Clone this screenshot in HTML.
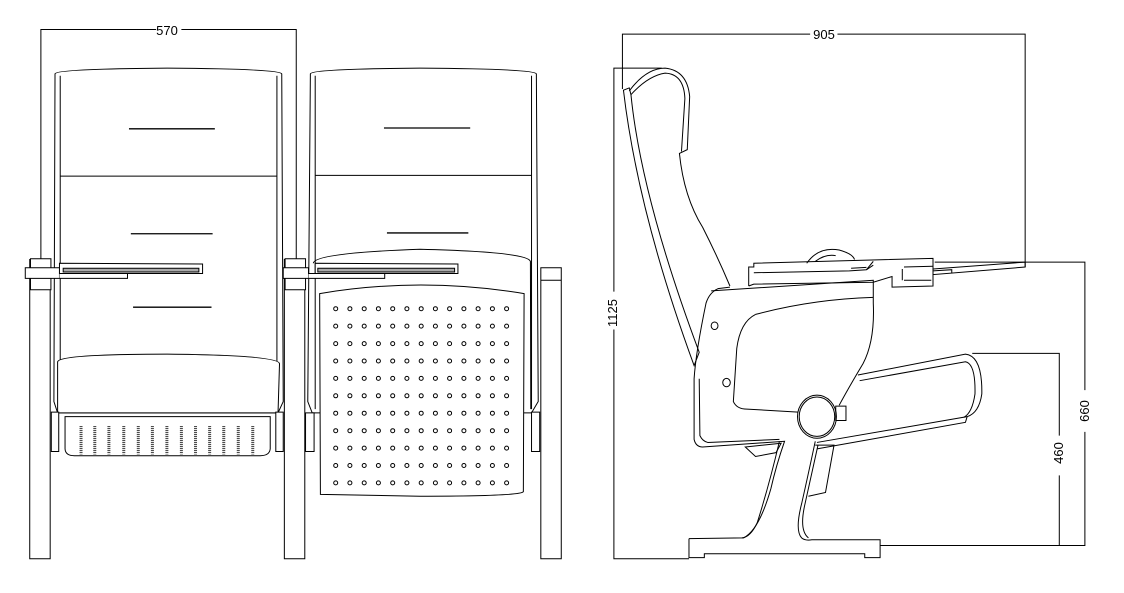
<!DOCTYPE html>
<html><head><meta charset="utf-8"><style>
html,body{margin:0;padding:0;background:#fff;width:1124px;height:593px;overflow:hidden}
svg{display:block}
path,line,rect,circle,polyline,polygon,ellipse{vector-effect:non-scaling-stroke}
text{font-family:"Liberation Sans",sans-serif;font-size:13px;fill:#000}
</style></head><body>
<svg width="1124" height="593" viewBox="0 0 1124 593" xmlns="http://www.w3.org/2000/svg">
<g transform="scale(0.3717,0.3788)" fill="none" stroke="#000" stroke-width="1">
  <polyline points="110,685 110,78 420,78"/>
  <polyline points="488,78 797,78 797,685"/>
  <path d="M148,195 Q150,182 450,180 Q755,182 758,195 L762,1060 L748,1090 L155,1090 L145,1060 Z"/>
  <path d="M162,200 L162,1080 M745,200 L745,1080"/>
  <line x1="162" y1="465" x2="745" y2="465"/>
  <line x1="347" y1="340" x2="578" y2="340" stroke-width="1.3"/>
  <line x1="352" y1="617" x2="572" y2="617" stroke-width="1.3"/>
  <line x1="358" y1="811" x2="569" y2="811" stroke-width="1.3"/>
  <path d="M155,955 Q160,935 450,935 Q750,938 752,960 L748,1090 L155,1090 Z" fill="#fff"/>
  <path d="M175,1100 L727,1100 L727,1185 Q725,1203 700,1203 L200,1203 Q176,1203 175,1185 Z" fill="#fff"/>
  <g stroke="#333" stroke-width="3" stroke-dasharray="1 1">
    <line x1="218" y1="1125" x2="218" y2="1200"/><line x1="255" y1="1125" x2="255" y2="1200"/>
    <line x1="293" y1="1125" x2="293" y2="1200"/><line x1="333" y1="1125" x2="333" y2="1200"/>
    <line x1="372" y1="1125" x2="372" y2="1200"/><line x1="410" y1="1125" x2="410" y2="1200"/>
    <line x1="449" y1="1125" x2="449" y2="1200"/><line x1="488" y1="1125" x2="488" y2="1200"/>
    <line x1="526" y1="1125" x2="526" y2="1200"/><line x1="564" y1="1125" x2="564" y2="1200"/>
    <line x1="602" y1="1125" x2="602" y2="1200"/><line x1="641" y1="1125" x2="641" y2="1200"/>
    <line x1="680" y1="1125" x2="680" y2="1200"/>
  </g>
  <rect x="138" y="1088" width="20" height="104" fill="#fff"/>
  <rect x="742" y="1088" width="20" height="104" fill="#fff"/>
  <rect x="80" y="685" width="55" height="790" fill="#fff"/>
  <rect x="82" y="683" width="55" height="82" fill="#fff"/>
  <rect x="68" y="707" width="92" height="28" fill="#fff"/>
  <path d="M160,695 L545,697 L545,722 L160,722 Z" fill="#fff"/>
  <rect x="170" y="708" width="365" height="10" fill="#aaa"/>
  <path d="M160,722 L343,722 L343,735 L160,735" fill="#fff"/>
  <path d="M835,195 Q838,182 1130,180 Q1440,182 1443,195 L1448,1060 L1430,1090 L840,1090 L828,1060 Z"/>
  <path d="M848,200 L848,1080 M1430,200 L1430,1080"/>
  <line x1="848" y1="463" x2="1430" y2="463"/>
  <line x1="1033" y1="338" x2="1265" y2="338" stroke-width="1.3"/>
  <line x1="1041" y1="615" x2="1260" y2="615" stroke-width="1.3"/>
  <path d="M843,695 Q845,668 1130,658 Q1420,665 1427,690 L1428,1080"/>
  <path d="M860,775 Q1130,730 1410,775 L1408,1298 Q1400,1310 1130,1310 L862,1305 Z" fill="#fff"/>
  <rect x="822" y="1090" width="23" height="102" fill="#fff"/>
  <rect x="1430" y="1088" width="22" height="104" fill="#fff"/>
  <rect x="765" y="685" width="55" height="790" fill="#fff"/>
  <rect x="767" y="683" width="55" height="82" fill="#fff"/>
  <rect x="762" y="707" width="68" height="28" fill="#fff"/>
  <path d="M848,695 L1232,697 L1232,722 L848,722 Z" fill="#fff"/>
  <rect x="855" y="708" width="368" height="10" fill="#aaa"/>
  <path d="M830,722 L1035,722 L1035,735 L830,735" fill="#fff"/>
  <rect x="1455" y="707" width="55" height="768" fill="#fff"/>
  <line x1="1455" y1="740" x2="1510" y2="740"/>
</g>
<g fill="none" stroke="#000" stroke-width="1">
<circle cx="335.7" cy="308.7" r="2"/><circle cx="349.9" cy="308.7" r="2"/><circle cx="364.2" cy="308.7" r="2"/><circle cx="378.4" cy="308.7" r="2"/><circle cx="392.7" cy="308.7" r="2"/><circle cx="406.9" cy="308.7" r="2"/><circle cx="421.2" cy="308.7" r="2"/><circle cx="435.4" cy="308.7" r="2"/><circle cx="449.6" cy="308.7" r="2"/><circle cx="463.9" cy="308.7" r="2"/><circle cx="478.1" cy="308.7" r="2"/><circle cx="492.4" cy="308.7" r="2"/><circle cx="506.6" cy="308.7" r="2"/>
<circle cx="335.7" cy="326.1" r="2"/><circle cx="349.9" cy="326.1" r="2"/><circle cx="364.2" cy="326.1" r="2"/><circle cx="378.4" cy="326.1" r="2"/><circle cx="392.7" cy="326.1" r="2"/><circle cx="406.9" cy="326.1" r="2"/><circle cx="421.2" cy="326.1" r="2"/><circle cx="435.4" cy="326.1" r="2"/><circle cx="449.6" cy="326.1" r="2"/><circle cx="463.9" cy="326.1" r="2"/><circle cx="478.1" cy="326.1" r="2"/><circle cx="492.4" cy="326.1" r="2"/><circle cx="506.6" cy="326.1" r="2"/>
<circle cx="335.7" cy="343.6" r="2"/><circle cx="349.9" cy="343.6" r="2"/><circle cx="364.2" cy="343.6" r="2"/><circle cx="378.4" cy="343.6" r="2"/><circle cx="392.7" cy="343.6" r="2"/><circle cx="406.9" cy="343.6" r="2"/><circle cx="421.2" cy="343.6" r="2"/><circle cx="435.4" cy="343.6" r="2"/><circle cx="449.6" cy="343.6" r="2"/><circle cx="463.9" cy="343.6" r="2"/><circle cx="478.1" cy="343.6" r="2"/><circle cx="492.4" cy="343.6" r="2"/><circle cx="506.6" cy="343.6" r="2"/>
<circle cx="335.7" cy="361.0" r="2"/><circle cx="349.9" cy="361.0" r="2"/><circle cx="364.2" cy="361.0" r="2"/><circle cx="378.4" cy="361.0" r="2"/><circle cx="392.7" cy="361.0" r="2"/><circle cx="406.9" cy="361.0" r="2"/><circle cx="421.2" cy="361.0" r="2"/><circle cx="435.4" cy="361.0" r="2"/><circle cx="449.6" cy="361.0" r="2"/><circle cx="463.9" cy="361.0" r="2"/><circle cx="478.1" cy="361.0" r="2"/><circle cx="492.4" cy="361.0" r="2"/><circle cx="506.6" cy="361.0" r="2"/>
<circle cx="335.7" cy="378.4" r="2"/><circle cx="349.9" cy="378.4" r="2"/><circle cx="364.2" cy="378.4" r="2"/><circle cx="378.4" cy="378.4" r="2"/><circle cx="392.7" cy="378.4" r="2"/><circle cx="406.9" cy="378.4" r="2"/><circle cx="421.2" cy="378.4" r="2"/><circle cx="435.4" cy="378.4" r="2"/><circle cx="449.6" cy="378.4" r="2"/><circle cx="463.9" cy="378.4" r="2"/><circle cx="478.1" cy="378.4" r="2"/><circle cx="492.4" cy="378.4" r="2"/><circle cx="506.6" cy="378.4" r="2"/>
<circle cx="335.7" cy="395.8" r="2"/><circle cx="349.9" cy="395.8" r="2"/><circle cx="364.2" cy="395.8" r="2"/><circle cx="378.4" cy="395.8" r="2"/><circle cx="392.7" cy="395.8" r="2"/><circle cx="406.9" cy="395.8" r="2"/><circle cx="421.2" cy="395.8" r="2"/><circle cx="435.4" cy="395.8" r="2"/><circle cx="449.6" cy="395.8" r="2"/><circle cx="463.9" cy="395.8" r="2"/><circle cx="478.1" cy="395.8" r="2"/><circle cx="492.4" cy="395.8" r="2"/><circle cx="506.6" cy="395.8" r="2"/>
<circle cx="335.7" cy="413.2" r="2"/><circle cx="349.9" cy="413.2" r="2"/><circle cx="364.2" cy="413.2" r="2"/><circle cx="378.4" cy="413.2" r="2"/><circle cx="392.7" cy="413.2" r="2"/><circle cx="406.9" cy="413.2" r="2"/><circle cx="421.2" cy="413.2" r="2"/><circle cx="435.4" cy="413.2" r="2"/><circle cx="449.6" cy="413.2" r="2"/><circle cx="463.9" cy="413.2" r="2"/><circle cx="478.1" cy="413.2" r="2"/><circle cx="492.4" cy="413.2" r="2"/><circle cx="506.6" cy="413.2" r="2"/>
<circle cx="335.7" cy="430.7" r="2"/><circle cx="349.9" cy="430.7" r="2"/><circle cx="364.2" cy="430.7" r="2"/><circle cx="378.4" cy="430.7" r="2"/><circle cx="392.7" cy="430.7" r="2"/><circle cx="406.9" cy="430.7" r="2"/><circle cx="421.2" cy="430.7" r="2"/><circle cx="435.4" cy="430.7" r="2"/><circle cx="449.6" cy="430.7" r="2"/><circle cx="463.9" cy="430.7" r="2"/><circle cx="478.1" cy="430.7" r="2"/><circle cx="492.4" cy="430.7" r="2"/><circle cx="506.6" cy="430.7" r="2"/>
<circle cx="335.7" cy="448.1" r="2"/><circle cx="349.9" cy="448.1" r="2"/><circle cx="364.2" cy="448.1" r="2"/><circle cx="378.4" cy="448.1" r="2"/><circle cx="392.7" cy="448.1" r="2"/><circle cx="406.9" cy="448.1" r="2"/><circle cx="421.2" cy="448.1" r="2"/><circle cx="435.4" cy="448.1" r="2"/><circle cx="449.6" cy="448.1" r="2"/><circle cx="463.9" cy="448.1" r="2"/><circle cx="478.1" cy="448.1" r="2"/><circle cx="492.4" cy="448.1" r="2"/><circle cx="506.6" cy="448.1" r="2"/>
<circle cx="335.7" cy="465.5" r="2"/><circle cx="349.9" cy="465.5" r="2"/><circle cx="364.2" cy="465.5" r="2"/><circle cx="378.4" cy="465.5" r="2"/><circle cx="392.7" cy="465.5" r="2"/><circle cx="406.9" cy="465.5" r="2"/><circle cx="421.2" cy="465.5" r="2"/><circle cx="435.4" cy="465.5" r="2"/><circle cx="449.6" cy="465.5" r="2"/><circle cx="463.9" cy="465.5" r="2"/><circle cx="478.1" cy="465.5" r="2"/><circle cx="492.4" cy="465.5" r="2"/><circle cx="506.6" cy="465.5" r="2"/>
<circle cx="335.7" cy="482.9" r="2"/><circle cx="349.9" cy="482.9" r="2"/><circle cx="364.2" cy="482.9" r="2"/><circle cx="378.4" cy="482.9" r="2"/><circle cx="392.7" cy="482.9" r="2"/><circle cx="406.9" cy="482.9" r="2"/><circle cx="421.2" cy="482.9" r="2"/><circle cx="435.4" cy="482.9" r="2"/><circle cx="449.6" cy="482.9" r="2"/><circle cx="463.9" cy="482.9" r="2"/><circle cx="478.1" cy="482.9" r="2"/><circle cx="492.4" cy="482.9" r="2"/><circle cx="506.6" cy="482.9" r="2"/>
</g>
<text x="167" y="35" text-anchor="middle">570</text>
<g transform="translate(590,0) scale(0.3413,0.3788)" fill="none" stroke="#000" stroke-width="1">
  <polyline points="95,235 95,90 645,90"/>
  <polyline points="725,90 1275,90 1275,705"/>
  <polyline points="210,180 70,180 70,770"/>
  <polyline points="70,870 70,1475 290,1475"/>
  <polyline points="1010,692 1450,692 1450,1030"/>
  <polyline points="1450,1140 1450,1440 850,1440"/>
  <polyline points="1120,933 1375,933 1375,1150"/>
  <polyline points="1375,1255 1375,1440"/>
  <path d="M98,238 L115,232 L120,250 Q150,520 320,930 L305,965 Q140,560 98,238 Z"/>
  <path d="M115,240 Q165,180 220,180 Q285,186 292,255 L285,395 L262,405 Q275,520 330,600 Q375,680 410,755"/>
  <path d="M120,250 Q170,200 220,193 Q275,195 278,260 L268,400"/>
  <path d="M410,758 L375,762 Q350,772 340,800 Q310,930 305,1000 L305,1160 Q310,1180 330,1180 L570,1165 Q545,1230 530,1290 Q495,1400 450,1420 L290,1422"/>
  <path d="M320,1000 L322,1150 Q330,1165 345,1168 L555,1160"/>
  <path d="M555,1165 Q525,1280 490,1380 Q470,1418 445,1420"/>
  <path d="M660,1165 Q640,1250 620,1330 Q600,1400 620,1420 Q630,1428 650,1425 L850,1425 L850,1472 L805,1472 L805,1462 L335,1462 L335,1472 L290,1472 L290,1422"/>
  <path d="M668,1175 Q650,1250 630,1330 Q612,1400 640,1420"/>
  <path d="M355,768 L830,740 L830,800 Q835,900 800,960 Q760,1020 730,1070"/>
  <path d="M485,830 Q650,790 830,785"/>
  <path d="M485,830 Q440,850 430,920 L420,1060 Q430,1080 460,1080 L610,1088"/>
  <path d="M785,990 L1100,935 Q1150,940 1148,1040 Q1140,1090 1105,1100 L665,1168"/>
  <path d="M790,1005 L1100,955 Q1130,960 1128,1040 Q1120,1090 1095,1102"/>
  <path d="M665,1185 L1100,1115 L1105,1100"/>
  <circle cx="665" cy="1100" r="57"/>
  <circle cx="665" cy="1100" r="52"/>
  <rect x="720" y="1072" width="30" height="38"/>
  <circle cx="365" cy="860" r="10"/>
  <circle cx="400" cy="1010" r="11"/>
  <path d="M660,1175 L715,1175 L690,1300 L640,1310"/>
  <path d="M455,1180 L560,1170 L545,1195 L485,1205 Z"/>
  <path d="M635,695 Q670,650 730,660 Q770,670 775,685"/>
  <path d="M660,690 Q690,670 720,675"/>
  <path d="M465,755 L465,705 L480,705 L480,695 L1005,682 L1005,755 L885,758 L885,730 L830,745 L480,750 L465,755"/>
  <path d="M480,720 L760,715 L810,712 L830,700"/>
  <path d="M765,708 L810,706 M810,712 L830,690"/>
  <path d="M920,705 L1005,703 M920,740 L1000,740 M915,710 L915,740"/>
  <path d="M1005,710 L1275,692 L1275,705 L1005,725 Z"/>
  <path d="M1005,715 L1060,712 L1060,722"/>
</g>
<text transform="translate(617,313) rotate(-90)" text-anchor="middle">1125</text>
<text transform="translate(1089,411) rotate(-90)" text-anchor="middle">660</text>
<text transform="translate(1063,453) rotate(-90)" text-anchor="middle">460</text>
<text x="824" y="39" text-anchor="middle">905</text>
</svg>
</body></html>
